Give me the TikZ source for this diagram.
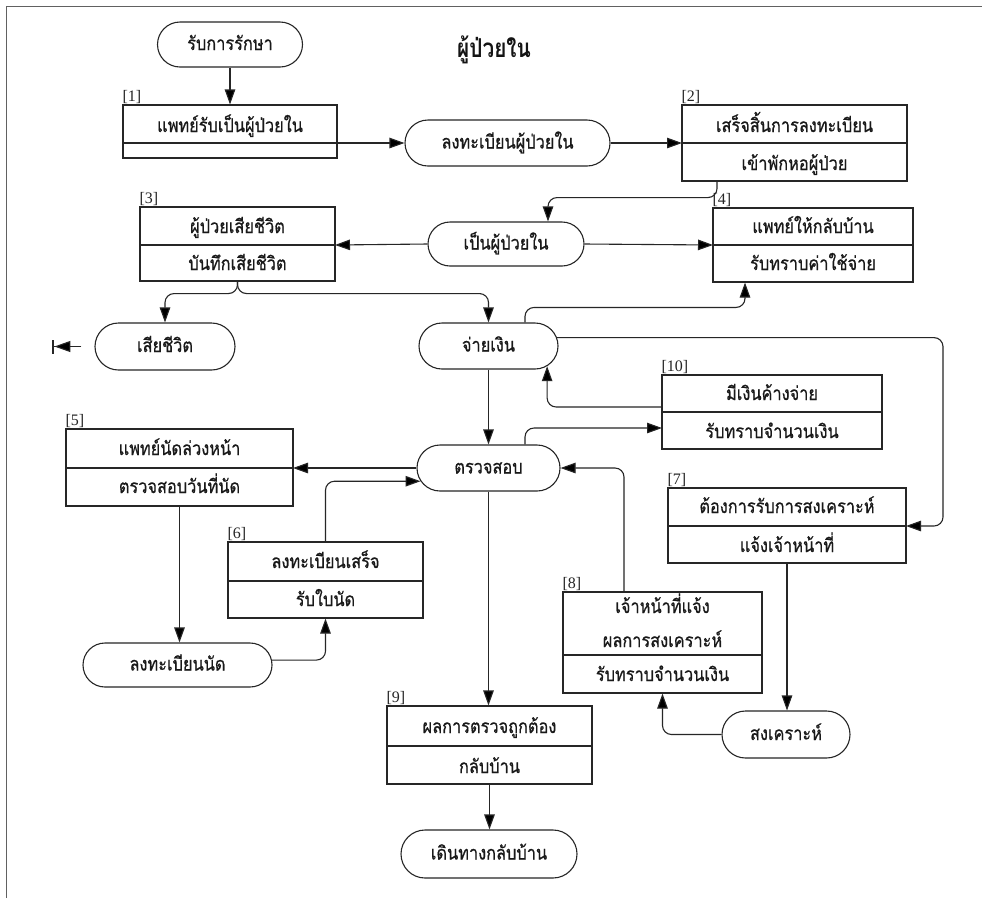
\documentclass[tikz,border=0pt]{standalone}
\usepackage{fontspec}
\setmainfont{Liberation Serif}
\newfontfamily\thaifont[Script=Thai, FakeStretch=0.86, FakeBold=0.7]{Loma}
\newfontfamily\thaititle[Script=Thai, FakeStretch=0.8]{Loma}
\usetikzlibrary{shapes.misc,arrows.meta}

% box with a dividing line and a number tag above its top-left corner
% #1 name, #2 left, #3 top, #4 right, #5 bottom, #6 divider y, #7 tag
\newcommand\flowbox[7]{%
  \node[boxframe, minimum width={#4-#2}, minimum height={#5-#3}] (#1) at ({(#2+#4)/2},{(#3+#5)/2}) {};
  \coordinate (#1-dw) at (#2,#6);
  \coordinate (#1-de) at (#4,#6);
  \draw[ink] (#1-dw) -- (#1-de);
  \node[tag] (#1-tag) at (#1.north west) {#7};
}

\begin{document}
\begin{tikzpicture}[x=1pt,y=-1pt,
  ink/.style={draw=black!85, line width=1.1pt},
  thaitext/.style={font=\thaifont\fontsize{19}{22}\selectfont, text=black!90},
  stadium/.style={ink, thaitext, rounded rectangle, minimum height=46pt, inner sep=0pt,
     text height=13pt, text depth=2pt},
  boxframe/.style={ink, rectangle, inner sep=0pt},
  boxtext/.style={thaitext, anchor=base, inner sep=0pt},
  tag/.style={font=\fontsize{16}{16}\selectfont, text=black!85, inner sep=0pt, anchor=south west, yshift=1pt},
  flow/.style={ink, -{Triangle[length=15pt,width=10.5pt,fill=black]}, rounded corners=9pt},
]
\useasboundingbox (0,0) rectangle (982,898);
\fill[white] (0,0) rectangle (982,898);

% page frame
\draw[draw=black!62, line width=1.8pt] (6.5,898) -- (6.5,6.5) -- (982,6.5);

% title
\node[font=\thaititle\bfseries\fontsize{26}{30}\selectfont, text=black!92, inner sep=0pt] (title) at (494,50) {ผู้ป่วยใน};

% terminals
\node[stadium, minimum width=145pt, minimum height=45pt] (start) at (230,44.5) {รับการรักษา};
\node[stadium, minimum width=205pt] (reg) at (507.5,143) {ลงทะเบียนผู้ป่วยใน};
\node[stadium, minimum width=156pt, minimum height=44pt] (inp) at (506,244) {เป็นผู้ป่วยใน};
\node[stadium, minimum width=140pt, minimum height=47pt] (die) at (165,346.5) {เสียชีวิต};
\node[stadium, minimum width=139pt] (pay) at (488.5,346) {จ่ายเงิน};
\node[stadium, minimum width=143pt] (chk) at (488.5,468) {ตรวจสอบ};
\node[stadium, minimum width=189pt, minimum height=44pt] (appt) at (177.5,665) {ลงทะเบียนนัด};
\node[stadium, minimum width=128pt, minimum height=47pt] (wel) at (786,734.5) {สงเคราะห์};
\node[stadium, minimum width=176pt, minimum height=48pt] (home) at (489,854) {เดินทางกลับบ้าน};

% process boxes
\flowbox{b1}{123}{105}{337}{158}{143}{[1]}
\node[boxtext] (b1-up) at (230,132) {แพทย์รับเป็นผู้ป่วยใน};

\flowbox{b2}{682}{105}{907}{181}{143}{[2]}
\node[boxtext] (b2-up) at (794.5,132) {เสร็จสิ้นการลงทะเบียน};
\node[boxtext] (b2-lo) at (794.5,170) {เข้าพักหอผู้ป่วย};

\flowbox{b3}{140}{207}{335}{281}{245}{[3]}
\node[boxtext] (b3-up) at (237.5,233) {ผู้ป่วยเสียชีวิต};
\node[boxtext] (b3-lo) at (237.5,270) {บันทึกเสียชีวิต};

\flowbox{b4}{713}{208}{913}{282}{245}{[4]}
\node[boxtext] (b4-up) at (813,233) {แพทย์ให้กลับบ้าน};
\node[boxtext] (b4-lo) at (813,270) {รับทราบค่าใช้จ่าย};

\flowbox{b10}{662}{375}{882}{449}{412}{[10]}
\node[boxtext] (b10-up) at (772,400) {มีเงินค้างจ่าย};
\node[boxtext] (b10-lo) at (772,438) {รับทราบจำนวนเงิน};

\flowbox{b5}{66}{429}{293}{506}{468}{[5]}
\node[boxtext] (b5-up) at (179.5,455) {แพทย์นัดล่วงหน้า};
\node[boxtext] (b5-lo) at (179.5,493) {ตรวจสอบวันที่นัด};

\flowbox{b7}{668}{488}{906}{563}{526}{[7]}
\node[boxtext] (b7-up) at (787,513) {ต้องการรับการสงเคราะห์};
\node[boxtext] (b7-lo) at (787,552) {แจ้งเจ้าหน้าที่};

\flowbox{b6}{228}{542}{423}{618}{581}{[6]}
\node[boxtext] (b6-up) at (325.5,568) {ลงทะเบียนเสร็จ};
\node[boxtext] (b6-lo) at (325.5,606) {รับใบนัด};

\flowbox{b8}{563}{592}{762}{693}{655}{[8]}
\node[boxtext] (b8-up) at (662.5,613) {เจ้าหน้าที่แจ้ง};
\node[boxtext] (b8-mid) at (662.5,647) {ผลการสงเคราะห์};
\node[boxtext] (b8-lo) at (662.5,681) {รับทราบจำนวนเงิน};

\flowbox{b9}{387}{706}{592}{784}{746}{[9]}
\node[boxtext] (b9-up) at (489.5,733) {ผลการตรวจถูกต้อง};
\node[boxtext] (b9-lo) at (489.5,773) {กลับบ้าน};

% connectors
\draw[flow] (start.south) -- (start.south |- b1.north);
\draw[flow] (b1-de) -- (reg.west);
\draw[flow] (reg.east) -- (b2-dw);
\draw[flow] ([xshift=-77.5pt]b2.south) -- ++(0,16) -| ([xshift=42pt]inp.north);
\draw[flow] (inp.west) -- (b3-de);
\draw[flow] (inp.east) -- (b4-dw);
\draw[flow] (b3.south) -- ++(0,12) -| (die.north);
\draw[flow] (b3.south) -- ++(0,12) -| (pay.north);
\coordinate (dieout) at (52,346.5);
\draw[ink, -{Triangle[length=16pt,width=11pt,sep=0pt,fill=black] Bar[width=14pt,line width=2.4pt]}] ([xshift=-13pt]die.west) -- (dieout);
\draw[flow] ([xshift=36.5pt]pay.north) -- ++(0,-15) -| ([xshift=-68pt]b4.south);
\draw[flow] (pay.7) -| ([xshift=37pt]b7-de) -- (b7-de);
\draw[flow] (pay.south) -- (chk.north);
\draw[flow] ([yshift=5pt]b10-dw) -| (pay.341);
\draw[flow] ([xshift=36.5pt]chk.north) |- ([yshift=-16pt]b10-dw);
\draw[flow] (chk.west) -- (b5-de);
\draw[flow] (b5.south) -- (b5.south |- appt.north);
\draw[flow] (appt.3) -| (b6.south);
\draw[flow] (b6.north) |- (chk.191);
\draw[flow] (chk.south) -- (chk.south |- b9.north);
\draw[flow] ([xshift=-38.5pt]b8.north) |- (chk.east);
\draw[flow] (b7.south) -- (b7.south |- wel.north);
\draw[flow] (wel.west) -| (b8.south);
\draw[flow] (b9.south) -- (b9.south |- home.north);
\end{tikzpicture}
\end{document}
